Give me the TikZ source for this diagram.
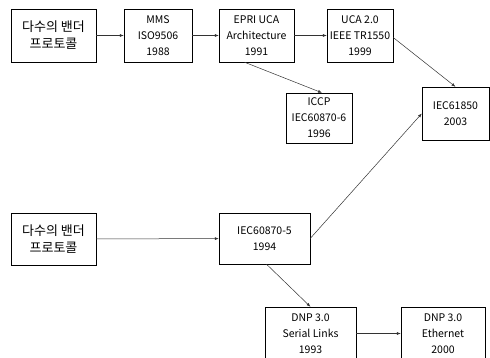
\documentclass[tikz,border=0pt]{standalone}
\usepackage{fontspec}
\setmainfont{Noto Sans CJK KR}
\usetikzlibrary{arrows.meta}

\tikzset{
  stdbox/.style = {draw, rectangle, align=center, inner sep=1pt,
    font=\fontsize{10.5}{16}\selectfont},
  vendbox/.style = {stdbox, font=\fontsize{13}{17}\selectfont},
  flow/.style = {draw=black!80, line width=0.5pt, -{Latex[length=4pt,width=3pt]}}
}

\begin{document}
\begin{tikzpicture}[x=1pt,y=-1pt]
  \useasboundingbox (0,0) rectangle (490,358);
  % upper row
  \node [vendbox, minimum width=85pt, minimum height=53pt] (vendA) at (53.5,35.5) {다수의 밴더\\프로토콜};
  \node [stdbox, minimum width=68pt, minimum height=53pt] (mms) at (158,35.5) {MMS\\ISO9506\\1988};
  \node [stdbox, minimum width=75pt, minimum height=53pt] (epri) at (256.5,35.5) {EPRI UCA\\Architecture\\1991};
  \node [stdbox, minimum width=66pt, minimum height=53pt] (uca) at (360,35.5) {UCA 2.0\\IEEE TR1550\\1999};
  \node [stdbox, minimum width=66pt, minimum height=50pt] (iccp) at (319,118) {ICCP\\IEC60870-6\\1996};
  \node [stdbox, minimum width=67pt, minimum height=53pt] (iec61850) at (455.5,113.5) {IEC61850\\2003};
  % lower row
  \node [vendbox, minimum width=85pt, minimum height=52pt] (vendB) at (53.5,239) {다수의 밴더\\프로토콜};
  \node [stdbox, minimum width=91pt, minimum height=51pt] (iec5) at (264.5,238.5) {IEC60870-5\\1994};
  \node [stdbox, minimum width=91pt, minimum height=53pt] (dnpser) at (310.5,333.5) {DNP 3.0\\Serial Links\\1993};
  \node [stdbox, minimum width=84pt, minimum height=53pt] (dnpeth) at (443,333.5) {DNP 3.0\\Ethernet\\2000};

  \draw [flow] (vendA) -- (mms);
  \draw [flow] (mms) -- (epri);
  \draw [flow] (epri) -- (uca);
  \draw [flow] ([xshift=-12pt]epri.south) -- ([xshift=3pt]iccp.north);
  \draw [flow] ([yshift=-2pt]uca.east) -- (iec61850.north);
  \draw [flow] (vendB) -- (iec5);
  \draw [flow] (iec5.east) -- (iec61850.west);
  \draw [flow] ([xshift=2pt]iec5.south) -- (dnpser.north);
  \draw [flow] (dnpser) -- (dnpeth);
\end{tikzpicture}
\end{document}
